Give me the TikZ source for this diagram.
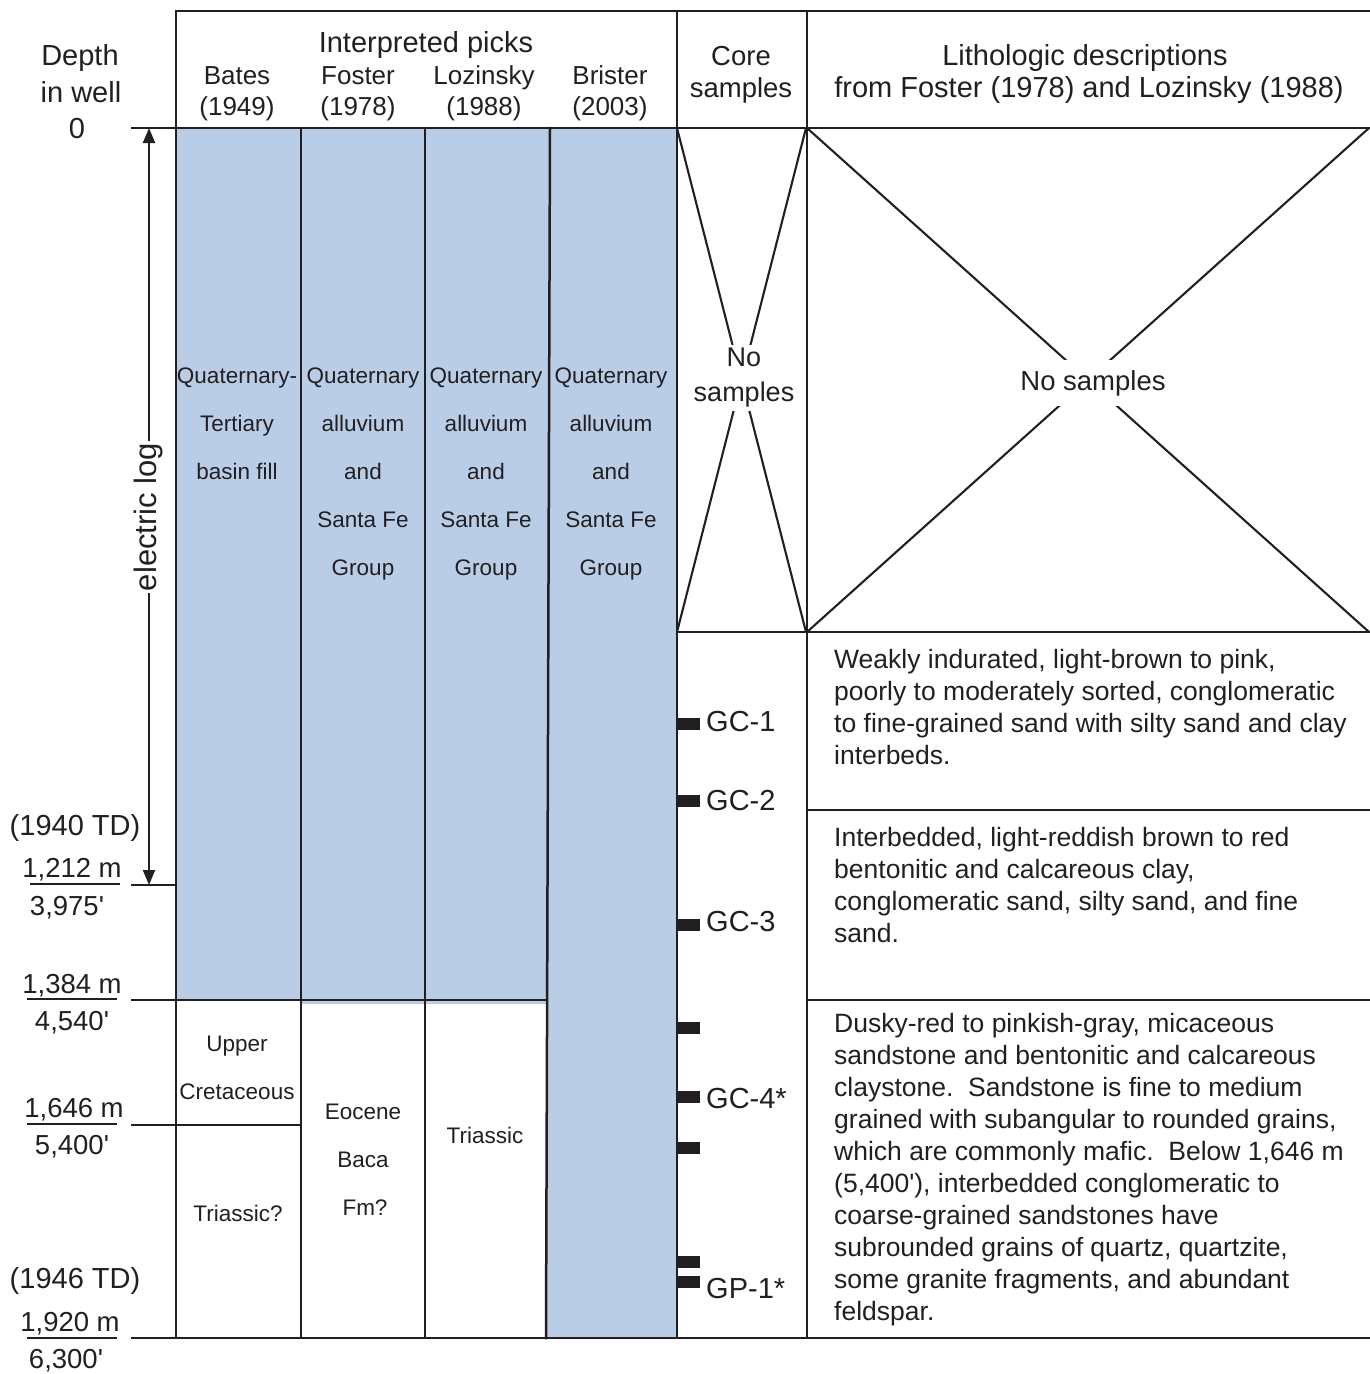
\documentclass[tikz,border=0pt]{standalone}
\usepackage{fontspec}
\newfontfamily\arialf{Liberation Sans}
\usetikzlibrary{arrows.meta}
\definecolor{inkc}{RGB}{35,31,32}
\definecolor{fillblue}{RGB}{185,205,231}
\begin{document}
\begin{tikzpicture}[x=1pt,y=-1pt,
  every node/.style={text=inkc, inner sep=0pt},
  rule/.style={draw=inkc, line width=2.5pt, line cap=rect},
  xline/.style={draw=inkc, line width=2.1pt},
  tickline/.style={draw=inkc, line width=2pt},
  tA/.style={font={\arialf\fontsize{29}{35}\selectfont}, text height=21pt, text depth=6pt, yshift=-3pt},
  tB/.style={font={\arialf\fontsize{26}{31}\selectfont}, text height=18.8pt, text depth=5.5pt, yshift=-3pt},
  tC/.style={font={\arialf\fontsize{22.5}{27}\selectfont}, text height=16.2pt, text depth=4.7pt, yshift=-3pt},
  tD/.style={font={\arialf\fontsize{27.5}{33}\selectfont}, text height=19.8pt, text depth=5.8pt, yshift=-3pt},
  tL/.style={font={\arialf\fontsize{26.5}{32}\selectfont}, text height=19.1pt, text depth=5.6pt, anchor=west, yshift=-3pt},
  tE/.style={font={\arialf\fontsize{31}{37}\selectfont}, text height=22.3pt, text depth=6.5pt},
  coremark/.style={fill=inkc}
]
\useasboundingbox (0,0) rectangle (1369,1374);
\fill[white] (0,0) rectangle (1369,1374);

% blue fill
\fill[fillblue] (176,128) -- (677,128) -- (677,1338) -- (546,1338) -- (547,1004)
  -- (301,1004) -- (301,1000) -- (176,1000) -- cycle;

% X crosses (no samples)
\draw[xline] (677,128) -- (806,632);
\draw[xline] (806,128) -- (677,632);
\draw[xline] (807,128) -- (1369,632);
\draw[xline] (1369,128) -- (807,632);

% frame
\draw[rule] (176,11) -- (1369,11);
\draw[rule] (132,128) -- (1369,128);
\draw[rule] (176,11) -- (176,1338);
\draw[rule] (677,11) -- (677,1338);
\draw[rule] (807,11) -- (807,1338);
\draw[rule] (301,128) -- (301,1338);
\draw[rule] (425,128) -- (425,1338);
\draw[rule] (550,128) -- (546,1338);
\draw[rule] (132,885) -- (176,885);
\draw[rule] (132,1000) -- (546,1000);
\draw[rule] (132,1125) -- (301,1125);
\draw[rule] (132,1338) -- (1369,1338);
\draw[rule] (677,632) -- (1369,632);
\draw[rule] (807,810) -- (1369,810);
\draw[rule] (807,1000) -- (1369,1000);

% header texts
\node[tA] (hdepth) at (80,55) {Depth};
\node[tA] (hwell) at (81,92) {in well};
\node[tA] (hzero) at (77,128) {0};
\node[tA] (hinterp) at (426,42) {Interpreted picks};
\node[tB] (hbates) at (237,75) {Bates};
\node[tB] (hbatesy) at (237,106) {(1949)};
\node[tB] (hfoster) at (358,75) {Foster};
\node[tB] (hfostery) at (358,106) {(1978)};
\node[tB] (hloz) at (484,75) {Lozinsky};
\node[tB] (hlozy) at (484,106) {(1988)};
\node[tB] (hbrister) at (610,75) {Brister};
\node[tB] (hbristery) at (610,106) {(2003)};
\node[tD] (hcore) at (741,55) {Core};
\node[tD] (hcoreb) at (741,87) {samples};
\node[tA] (hlitho) at (1085,55) {Lithologic descriptions};
\node[tA] (hlithob) at (1089,87) {from Foster (1978) and Lozinsky (1988)};

% interpreted picks, upper part
\node[tC] (b1) at (237,375) {Quaternary-};
\node[tC] (b2) at (237,423) {Tertiary};
\node[tC] (b3) at (237,471) {basin fill};
\foreach \cx/\nm in {363/f,486/l,611/r}{
  \node[tC] (\nm1) at (\cx,375) {Quaternary};
  \node[tC] (\nm2) at (\cx,423) {alluvium};
  \node[tC] (\nm3) at (\cx,471) {and};
  \node[tC] (\nm4) at (\cx,519) {Santa Fe};
  \node[tC] (\nm5) at (\cx,567) {Group};
}
% lower part
\node[tC] (bu1) at (237,1043) {Upper};
\node[tC] (bu2) at (237,1091) {Cretaceous};
\node[tC] (bu3) at (238,1213) {Triassic?};
\node[tC] (fe1) at (363,1111) {Eocene};
\node[tC] (fe2) at (363,1159) {Baca};
\node[tC] (fe3) at (365,1207) {Fm?};
\node[tC] (lt1) at (485,1135) {Triassic};

% no samples
\node[font={\arialf\fontsize{27}{35}\selectfont}, align=center, fill=white, inner sep=3pt] (nocore) at (744,378) {No\\samples};
\node[tD, fill=white, inner xsep=12pt, inner ysep=10pt] (nolitho) at (1093,380) {No samples};

% core sample marks
\foreach \my in {724,801,925,1028,1097,1148,1262,1282}{
  \fill[coremark] (676,\my-6) rectangle (700,\my+6);
}
\node[tA, anchor=west] (gc1) at (706,721) {GC-1};
\node[tA, anchor=west] (gc2) at (706,800) {GC-2};
\node[tA, anchor=west] (gc3) at (706,921) {GC-3};
\node[tA, anchor=west] (gc4) at (706,1098) {GC-4*};
\node[tA, anchor=west] (gp1) at (706,1288) {GP-1*};

% lithologic descriptions
\node[tL] (p1a) at (834,659) {Weakly indurated, light-brown to pink,};
\node[tL] (p1b) at (834,691) {poorly to moderately sorted, conglomeratic};
\node[tL] (p1c) at (834,723) {to fine-grained sand with silty sand and clay};
\node[tL] (p1d) at (834,755) {interbeds.};
\node[tL] (p2a) at (834,837) {Interbedded, light-reddish brown to red};
\node[tL] (p2b) at (834,869) {bentonitic and calcareous clay,};
\node[tL] (p2c) at (834,901) {conglomeratic sand, silty sand, and fine};
\node[tL] (p2d) at (834,933) {sand.};
\node[tL] (p3a) at (834,1023) {Dusky-red to pinkish-gray, micaceous};
\node[tL] (p3b) at (834,1055) {sandstone and bentonitic and calcareous};
\node[tL] (p3c) at (834,1087) {claystone.\ \ Sandstone is fine to medium};
\node[tL] (p3d) at (834,1119) {grained with subangular to rounded grains,};
\node[tL] (p3e) at (834,1151) {which are commonly mafic.\ \ Below 1,646 m};
\node[tL] (p3f) at (834,1183) {(5,400'), interbedded conglomeratic to};
\node[tL] (p3g) at (834,1215) {coarse-grained sandstones have};
\node[tL] (p3h) at (834,1247) {subrounded grains of quartz, quartzite,};
\node[tL] (p3i) at (834,1279) {some granite fragments, and abundant};
\node[tL] (p3j) at (834,1311) {feldspar.};

% depth labels
\node[tA] (td1) at (75,825) {(1940 TD)};
\node[tD] (d1m) at (72,867) {1,212 m};
\node[tD] (d1f) at (67,905) {3,975'};
\node[tD] (d2m) at (72,983) {1,384 m};
\node[tD] (d2f) at (72,1020) {4,540'};
\node[tD] (d3m) at (74,1107) {1,646 m};
\node[tD] (d3f) at (72,1144) {5,400'};
\node[tA] (td2) at (75,1278) {(1946 TD)};
\node[tD] (d4m) at (70,1321) {1,920 m};
\node[tD] (d4f) at (66,1358) {6,300'};
\draw[tickline] (30,884) -- (120,884);
\draw[tickline] (27,999) -- (117,999);
\draw[tickline] (27,1124) -- (117,1124);
\draw[tickline] (27,1338) -- (117,1338);

% electric log arrow
\coordinate (eltop) at (149,128);
\coordinate (elbot) at (149,885);
\draw[draw=inkc, line width=2pt, {Triangle[length=15pt,width=12pt]}-{Triangle[length=15pt,width=12pt]}] (eltop) -- (elbot);
\node[tE, rotate=90, fill=white, inner xsep=2pt, inner ysep=0pt] (elog) at (149,517) {electric log};
\end{tikzpicture}
\end{document}
